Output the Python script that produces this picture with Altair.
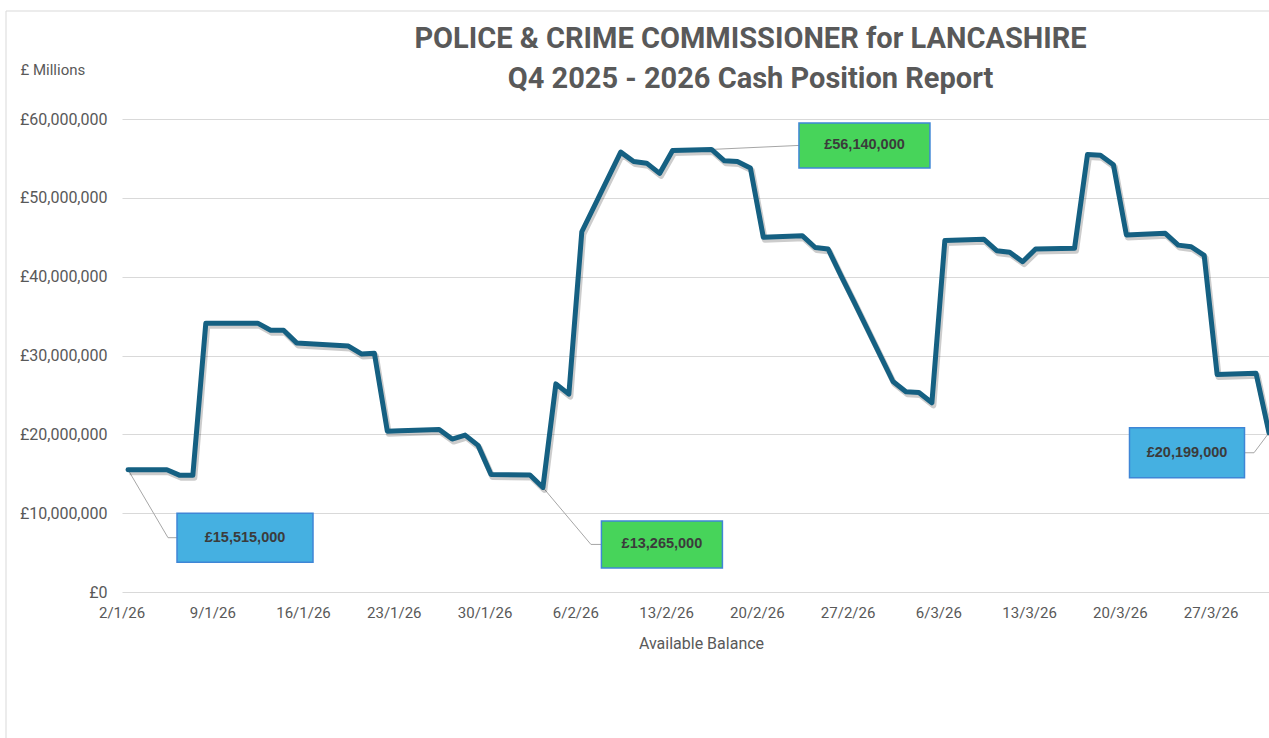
import altair as alt
import pandas as pd

# ---- Daily available balance (business days only), £ ----
dates = [
    "2026-01-02", "2026-01-05", "2026-01-06", "2026-01-07", "2026-01-08", "2026-01-09",
    "2026-01-12", "2026-01-13", "2026-01-14", "2026-01-15", "2026-01-16",
    "2026-01-19", "2026-01-20", "2026-01-21", "2026-01-22", "2026-01-23",
    "2026-01-26", "2026-01-27", "2026-01-28", "2026-01-29", "2026-01-30",
    "2026-02-02", "2026-02-03", "2026-02-04", "2026-02-05", "2026-02-06",
    "2026-02-09", "2026-02-10", "2026-02-11", "2026-02-12", "2026-02-13",
    "2026-02-16", "2026-02-17", "2026-02-18", "2026-02-19", "2026-02-20",
    "2026-02-23", "2026-02-24", "2026-02-25", "2026-02-26", "2026-02-27",
    "2026-03-02", "2026-03-03", "2026-03-04", "2026-03-05", "2026-03-06",
    "2026-03-09", "2026-03-10", "2026-03-11", "2026-03-12", "2026-03-13",
    "2026-03-16", "2026-03-17", "2026-03-18", "2026-03-19", "2026-03-20",
    "2026-03-23", "2026-03-24", "2026-03-25", "2026-03-26", "2026-03-27",
    "2026-03-30", "2026-03-31",
]
balances = [
    15_515_000, 15_500_000, 14_800_000, 14_800_000, 34_100_000, 34_100_000,
    34_100_000, 33_200_000, 33_200_000, 31_600_000, 31_500_000,
    31_200_000, 30_200_000, 30_300_000, 20_400_000, 20_450_000,
    20_600_000, 19_400_000, 19_900_000, 18_600_000, 14_900_000,
    14_850_000, 13_265_000, 26_400_000, 25_100_000, 45_700_000,
    55_800_000, 54_600_000, 54_400_000, 53_100_000, 56_000_000,
    56_140_000, 54_700_000, 54_600_000, 53_800_000, 45_000_000,
    45_200_000, 43_700_000, 43_500_000, 40_100_000, 36_800_000,
    26_700_000, 25_400_000, 25_300_000, 24_000_000, 44_600_000,
    44_750_000, 43_300_000, 43_100_000, 41_900_000, 43_500_000,
    43_600_000, 55_500_000, 55_400_000, 54_200_000, 45_300_000,
    45_500_000, 44_000_000, 43_800_000, 42_700_000, 27_600_000,
    27_750_000, 20_199_000,
]

# ---- Axis ticks ----
week_ticks = [
    "2026-01-02", "2026-01-09", "2026-01-16", "2026-01-23", "2026-01-30",
    "2026-02-06", "2026-02-13", "2026-02-20", "2026-02-27", "2026-03-06",
    "2026-03-13", "2026-03-20", "2026-03-27",
]
y_ticks = [0, 10_000_000, 20_000_000, 30_000_000, 40_000_000, 50_000_000, 60_000_000]

# ---- Highlighted balances ----
callout_dates = ["2026-01-02", "2026-02-03", "2026-02-16", "2026-03-31"]
callout_fills = ["#45B0E1", "#47D45A", "#47D45A", "#45B0E1"]

TITLE_LINES = ["POLICE & CRIME COMMISSIONER for LANCASHIRE",
               "Q4 2025 - 2026 Cash Position Report"]

# ---- Styling / layout ----
FONT = "Roboto"
GREY = "#595959"
LINE_BLUE = "#156082"
WIDTH, HEIGHT = 1147, 473
X_START = pd.Timestamp("2026-01-01 12:53")
X_END = pd.Timestamp("2026-03-31 00:00")
Y_MAX = 60_000_000

px_per_day = WIDTH / ((X_END - X_START) / pd.Timedelta(days=1))
px_per_gbp = HEIGHT / Y_MAX

# box offset from its point (px, screen coords), box size (px), connector elbow dx (px)
callout_layout = [
    dict(dx=117, dy=68, w=136, h=49, elbow=40),
    dict(dx=119, dy=57, w=121, h=47, elbow=48),
    dict(dx=153, dy=-4, w=131, h=45, elbow=None),
    dict(dx=-82, dy=20, w=115, h=50, elbow=-15),
]


def dt(s):
    t = pd.Timestamp(s)
    return alt.DateTime(year=t.year, month=t.month, date=t.day,
                        hours=t.hour, minutes=t.minute)


def shift(date, px):
    return date + pd.Timedelta(days=px / px_per_day)


def lift(value, px):
    # positive px moves downwards on screen
    return value - px / px_per_gbp


series = pd.DataFrame({"date": pd.to_datetime(dates), "value": balances})
lookup = dict(zip(dates, balances))

boxes, labels, segments = [], [], []
for d, fill, lay in zip(callout_dates, callout_fills, callout_layout):
    v = lookup[d]
    t = pd.Timestamp(d)
    cx = shift(t, lay["dx"])
    cy = lift(v, lay["dy"])
    boxes.append(dict(date=shift(cx, -lay["w"] / 2), date2=shift(cx, lay["w"] / 2),
                      value=lift(cy, -lay["h"] / 2), value2=lift(cy, lay["h"] / 2),
                      fill=fill))
    labels.append(dict(date=cx, value=cy, label=f"£{v:,}"))
    edge = shift(cx, -lay["w"] / 2 if lay["dx"] > 0 else lay["w"] / 2)
    if lay["elbow"] is None:
        segments.append(dict(date=t, value=v, date2=edge, value2=cy))
    else:
        elbow = shift(t, lay["elbow"])
        segments.append(dict(date=t, value=v, date2=elbow, value2=cy))
        segments.append(dict(date=elbow, value=cy, date2=edge, value2=cy))

boxes_df = pd.DataFrame(boxes)
labels_df = pd.DataFrame(labels)
segments_df = pd.DataFrame(segments)

X_ENC = alt.X(
    "date:T",
    scale=alt.Scale(domain=[dt(X_START), dt(X_END)]),
    axis=alt.Axis(
        values=[dt(s) for s in week_ticks], format="%-d/%-m/%y",
        title="Available Balance", titleFont=FONT, titleFontSize=16,
        titleFontWeight="normal", titleColor=GREY, titlePadding=15, titleX=579,
        labelFont=FONT, labelFontSize=15, labelColor=GREY, labelPadding=13,
        labelOffset=-6.5, labelOverlap=False, grid=False, domain=False, ticks=False,
    ),
)
Y_ENC = alt.Y(
    "value:Q",
    scale=alt.Scale(domain=[0, Y_MAX], nice=False),
    axis=alt.Axis(
        values=y_ticks, labelExpr="'£' + format(datum.value, ',')",
        labelFont=FONT, labelFontSize=16, labelColor=GREY, labelPadding=15,
        title="£ Millions", titleFont=FONT, titleFontSize=15, titleFontWeight="normal",
        titleColor=GREY, titleAngle=0, titleAlign="left", titleBaseline="middle",
        titleX=-102, titleY=-50,
        grid=True, gridColor="#d9d9d9", gridWidth=1, domain=False, ticks=False,
    ),
)

# light outer border of the chart area
frame = alt.Chart(alt.Data(values=[{"k": 1}])).mark_rect(
    fillOpacity=0, stroke="#d9d9d9", strokeWidth=1
).encode(
    x=alt.value(-116), y=alt.value(-108),
    x2=alt.value(WIDTH + 40), y2=alt.value(HEIGHT + 300),
)

base = alt.Chart(series).encode(x=X_ENC, y=Y_ENC)
shadow = base.mark_line(color="#000000", opacity=0.2, strokeWidth=6,
                        xOffset=1.5, yOffset=2.5, strokeJoin="round")
line = base.mark_line(color=LINE_BLUE, strokeWidth=5, strokeJoin="round",
                      strokeCap="round")

connectors = alt.Chart(segments_df).mark_rule(color="#a6a6a6", strokeWidth=1).encode(
    x=X_ENC, y=Y_ENC, x2="date2:T", y2="value2:Q"
)
box_marks = alt.Chart(boxes_df).mark_rect(stroke="#3F86D6", strokeWidth=1.5).encode(
    x=X_ENC, y=Y_ENC, x2="date2:T", y2="value2:Q",
    fill=alt.Fill("fill:N", scale=None),
)
label_marks = alt.Chart(labels_df).mark_text(
    font="Liberation Sans", fontWeight="bold", fontSize=14.5, color="#3b3b3b"
).encode(x=X_ENC, y=Y_ENC, text="label:N")

chart = alt.layer(
    frame, connectors, shadow, line, box_marks, label_marks
).properties(
    width=WIDTH, height=HEIGHT,
    autosize=alt.AutoSizeParams(type="none"),
    padding={"left": 122, "top": 119, "right": 0, "bottom": 146},
    background="#ffffff",
    title=alt.TitleParams(
        text=TITLE_LINES, font=FONT, fontSize=29, fontWeight="bold",
        color=GREY, anchor="middle", dx=55, dy=113, offset=30, lineHeight=40,
    ),
).configure_view(strokeWidth=0)

chart.save("out.html", embed_options={"renderer": "svg", "actions": False})
